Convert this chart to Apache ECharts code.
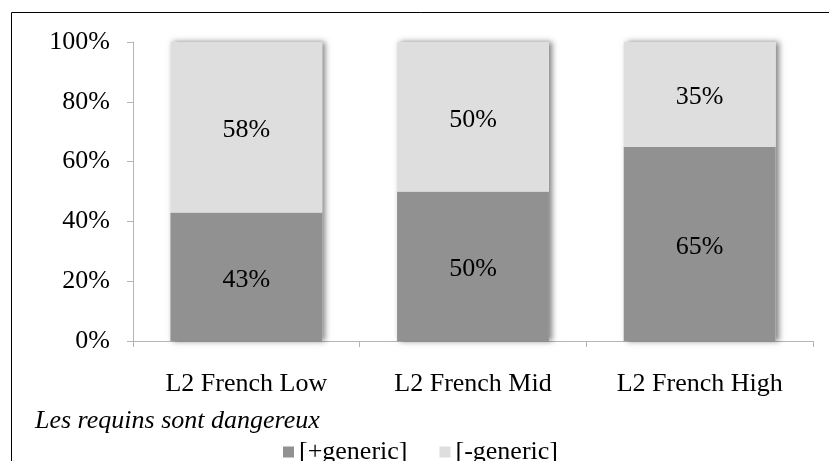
<!DOCTYPE html>
<html>
<head>
<meta charset="utf-8">
<script src="https://cdn.jsdelivr.net/npm/echarts@6/dist/echarts.min.js"></script>
<style>
  html, body { margin: 0; padding: 0; background: #fff; }
  #chart { width: 829px; height: 461px; }
</style>
</head>
<body>
<div id="chart"></div>
<script>
// Share of responses per L2 French proficiency group
const categories = ['L2 French Low', 'L2 French Mid', 'L2 French High'];
const plusGeneric = [43, 50, 65];
const minusGeneric = [58, 50, 35];
const seriesNames = ['[+generic]', '[-generic]'];
const yTicks = [0, 20, 40, 60, 80, 100];

const FONT = '"Liberation Serif", "Times New Roman", serif';
const AXIS_GREY = '#b5b5b5';

// full stacked height of each column, used for the drop shadow behind the stack
const stackTotals = categories.map((_, i) => plusGeneric[i] + minusGeneric[i]);

const segmentLabel = {
  show: true,
  position: 'inside',
  offset: [0, 3],
  formatter: '{c}%',
  fontFamily: FONT,
  fontSize: 26,
  color: '#000'
};

const chart = echarts.init(document.getElementById('chart'), null, { renderer: 'canvas' });

chart.setOption({
  animation: false,
  backgroundColor: '#ffffff',
  textStyle: { fontFamily: FONT, color: '#000' },
  title: {
    text: 'Les requins sont dangereux',
    left: 30,
    top: 403,
    textStyle: { fontFamily: FONT, fontSize: 26, fontStyle: 'italic', fontWeight: 'normal', color: '#000' }
  },
  legend: {
    data: seriesNames,
    left: 278,
    top: 434,
    itemWidth: 11,
    itemHeight: 11,
    itemGap: 32,
    icon: 'rect',
    textStyle: { fontFamily: FONT, fontSize: 26, color: '#000' }
  },
  grid: { left: 133, right: 16, top: 42, bottom: 120, containLabel: false },
  xAxis: {
    type: 'category',
    data: categories,
    axisLine: { lineStyle: { color: AXIS_GREY, width: 1 } },
    axisTick: { show: true, length: 6, alignWithLabel: false, lineStyle: { color: AXIS_GREY } },
    axisLabel: { margin: 30, fontFamily: FONT, fontSize: 26, color: '#000' },
    splitLine: { show: false }
  },
  yAxis: {
    type: 'value',
    min: yTicks[0],
    max: yTicks[yTicks.length - 1],
    interval: yTicks[1] - yTicks[0],
    axisLine: { show: true, lineStyle: { color: AXIS_GREY, width: 1 } },
    axisTick: { show: true, length: 6, inside: false, lineStyle: { color: AXIS_GREY } },
    axisLabel: { margin: 23, fontFamily: FONT, fontSize: 26, color: '#000', formatter: '{value}%' },
    splitLine: { show: false }
  },
  series: [
    {
      name: 'shadow',
      type: 'bar',
      data: stackTotals,
      barCategoryGap: '33%',
      barGap: '-100%',
      clip: true,
      z: 1,
      silent: true,
      itemStyle: {
        color: '#ffffff',
        shadowColor: 'rgba(0,0,0,0.5)',
        shadowBlur: 6,
        shadowOffsetX: 3,
        shadowOffsetY: 0
      },
      label: { show: false },
      tooltip: { show: false }
    },
    {
      name: seriesNames[0],
      type: 'bar',
      stack: 'share',
      data: plusGeneric,
      barCategoryGap: '33%',
      barGap: '-100%',
      clip: true,
      z: 2,
      itemStyle: { color: '#919191' },
      label: segmentLabel
    },
    {
      name: seriesNames[1],
      type: 'bar',
      stack: 'share',
      data: minusGeneric,
      barCategoryGap: '33%',
      barGap: '-100%',
      clip: true,
      z: 2,
      itemStyle: { color: '#dedede' },
      label: segmentLabel
    }
  ],
  graphic: [
    {
      type: 'rect',
      silent: true,
      shape: { x: 11.5, y: 12.5, width: 830, height: 460 },
      style: { fill: 'none', stroke: '#000', lineWidth: 1 }
    }
  ]
});
</script>
</body>
</html>
